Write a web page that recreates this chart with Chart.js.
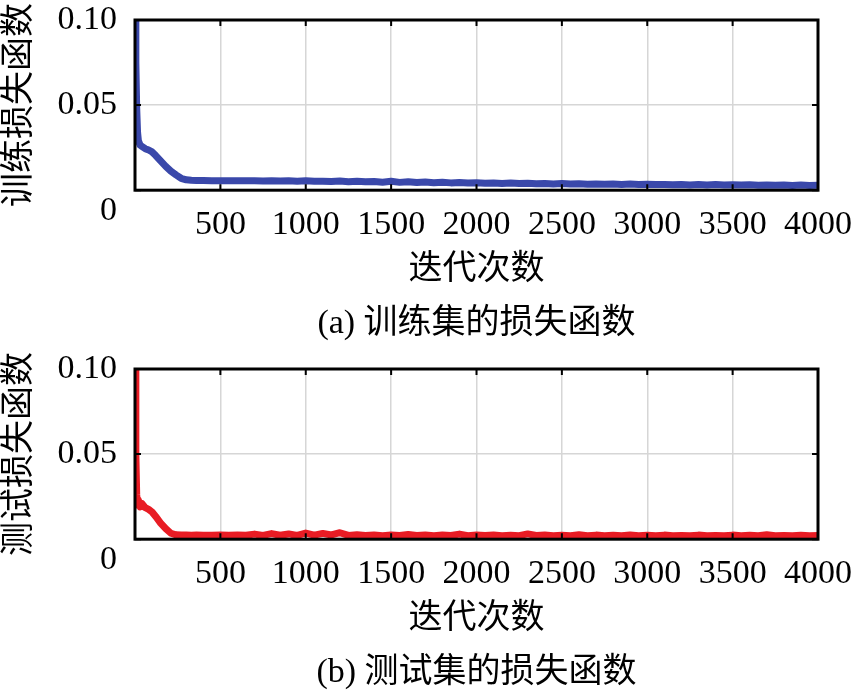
<!DOCTYPE html>
<html>
<head>
<meta charset="utf-8">
<title>损失函数</title>
<script src="https://cdn.jsdelivr.net/npm/chart.js@4.4.0/dist/chart.umd.min.js"></script>
<style>
    html, body { margin: 0; padding: 0; background: #fff; }
    #wrap { position: relative; width: 866px; height: 696px; overflow: hidden; }
    canvas { position: absolute; left: 0; }
    #trainChart { top: 0; }
    #testChart { top: 349px; }
</style>
</head>
<body>
<div id="wrap">
    <canvas id="trainChart" width="866" height="347"></canvas>
    <canvas id="testChart" width="866" height="347"></canvas>
</div>
<script>
// iteration numbers shared by both curves
const iterations = [
    0, 5, 10, 15, 20, 30, 40, 60, 80, 100, 120, 150, 180, 210, 240, 270, 300, 330, 360, 400,
    450, 500, 550, 600, 650, 700, 750, 800, 850, 900, 950, 1000,
    1050, 1100, 1150, 1200, 1250, 1300, 1350, 1400, 1450, 1500,
    1550, 1600, 1650, 1700, 1750, 1800, 1850, 1900, 1950, 2000,
    2050, 2100, 2150, 2200, 2250, 2300, 2350, 2400, 2450, 2500,
    2550, 2600, 2650, 2700, 2750, 2800, 2850, 2900, 2950, 3000,
    3050, 3100, 3150, 3200, 3250, 3300, 3350, 3400, 3450, 3500,
    3550, 3600, 3650, 3700, 3750, 3800, 3850, 3900, 3950, 4000
];

// (a) training loss
const trainLoss = [
    0.112, 0.075, 0.048, 0.034, 0.029, 0.0265, 0.0258, 0.0244, 0.0236, 0.0225,
    0.0205, 0.0172, 0.0140, 0.0112, 0.0090, 0.0070, 0.0061, 0.0058, 0.0057, 0.0057,
    0.0056, 0.0056, 0.0055, 0.0056, 0.0055, 0.0055, 0.0054, 0.0055, 0.0054, 0.0055, 0.0053, 0.0055,
    0.0052, 0.0053, 0.0051, 0.0054, 0.0050, 0.0052, 0.0049, 0.0051, 0.0047, 0.0052,
    0.0046, 0.0050, 0.0045, 0.0048, 0.0044, 0.0047, 0.0043, 0.0045, 0.0042, 0.0044,
    0.0041, 0.0043, 0.0040, 0.0042, 0.0039, 0.0041, 0.0038, 0.0040, 0.0037, 0.0039,
    0.0036, 0.0038, 0.0035, 0.0037, 0.0035, 0.0036, 0.0034, 0.0036, 0.0033, 0.0035,
    0.0033, 0.0034, 0.0032, 0.0034, 0.0031, 0.0033, 0.0031, 0.0033, 0.0030, 0.0032,
    0.0030, 0.0032, 0.0029, 0.0031, 0.0029, 0.0031, 0.0028, 0.0030, 0.0028, 0.0029
];

// (b) test loss
const testLoss = [
    0.105, 0.050, 0.026, 0.020, 0.023, 0.019, 0.021, 0.0185, 0.0175, 0.0160,
    0.0135, 0.0095, 0.0062, 0.0035, 0.0026, 0.0024, 0.0024, 0.0023, 0.0024, 0.0023,
    0.0023, 0.0024, 0.0023, 0.0024, 0.0023, 0.0030, 0.0022, 0.0033, 0.0023, 0.0031, 0.0022, 0.0036,
    0.0024, 0.0034, 0.0025, 0.0038, 0.0022, 0.0026, 0.0022, 0.0025, 0.0021, 0.0024,
    0.0022, 0.0028, 0.0022, 0.0025, 0.0021, 0.0024, 0.0022, 0.0030, 0.0021, 0.0025,
    0.0022, 0.0024, 0.0021, 0.0023, 0.0021, 0.0031, 0.0022, 0.0024, 0.0021, 0.0023,
    0.0021, 0.0026, 0.0020, 0.0024, 0.0021, 0.0023, 0.0020, 0.0025, 0.0021, 0.0023,
    0.0020, 0.0024, 0.0021, 0.0022, 0.0020, 0.0024, 0.0021, 0.0022, 0.0020, 0.0024,
    0.0021, 0.0023, 0.0020, 0.0026, 0.0021, 0.0022, 0.0020, 0.0023, 0.0021, 0.0022
];

const xTicks = [500, 1000, 1500, 2000, 2500, 3000, 3500, 4000];
const yTicks = [0, 0.05, 0.1];
const yTickLabels = [['', '0'], '0.05', '0.10'];

const FONT = "'Liberation Serif', 'Noto Sans CJK SC', serif";

// black box round the plot plus short inward ticks, like the original
const framePlugin = {
    id: 'frame',
    afterDatasetsDraw(chart) {
        const { ctx, chartArea: a, scales } = chart;
        ctx.save();
        ctx.strokeStyle = '#000';
        ctx.lineWidth = 2;
        ctx.beginPath();
        scales.x.ticks.forEach(t => {
            const px = scales.x.getPixelForValue(t.value);
            ctx.moveTo(px, a.top); ctx.lineTo(px, a.top + 6);
            ctx.moveTo(px, a.bottom); ctx.lineTo(px, a.bottom - 6);
        });
        scales.y.ticks.forEach(t => {
            const py = scales.y.getPixelForValue(t.value);
            ctx.moveTo(a.left, py); ctx.lineTo(a.left + 6, py);
            ctx.moveTo(a.right, py); ctx.lineTo(a.right - 6, py);
        });
        ctx.stroke();
        ctx.lineWidth = 3;
        ctx.strokeRect(a.left, a.top, a.right - a.left, a.bottom - a.top);
        ctx.restore();
    }
};

Chart.defaults.color = '#000';
Chart.defaults.font.family = FONT;

function makeLossChart(id, values, color, yTitle, caption) {
    const points = iterations.map((it, i) => ({ x: it, y: values[i] }));
    return new Chart(document.getElementById(id), {
        type: 'line',
        data: {
            datasets: [{
                data: points,
                borderColor: color,
                borderWidth: 7,
                pointRadius: 0,
                tension: 0,
                borderJoinStyle: 'round',
                borderCapStyle: 'round',
                clip: 0
            }]
        },
        options: {
            responsive: false,
            animation: false,
            layout: { padding: { top: 20, right: 35, left: 0, bottom: 0 } },
            plugins: {
                legend: { display: false },
                tooltip: { enabled: false },
                title: {
                    display: true,
                    text: caption,
                    position: 'bottom',
                    fullSize: false,
                    font: { size: 34, weight: 'normal' },
                    padding: { top: 13, bottom: 3 }
                }
            },
            scales: {
                x: {
                    type: 'linear',
                    min: 0,
                    max: 4000,
                    border: { display: false },
                    grid: { color: '#d6d6d6', lineWidth: 1.5, drawTicks: false },
                    afterBuildTicks: scale => {
                        scale.ticks = [0].concat(xTicks).map(v => ({ value: v }));
                    },
                    ticks: {
                        autoSkip: false,
                        maxRotation: 0,
                        padding: 14,
                        font: { size: 34 },
                        callback: v => (v === 0 ? '' : String(v))
                    },
                    title: {
                        display: true,
                        text: '迭代次数',
                        font: { size: 34 },
                        padding: { top: 0, bottom: 0 }
                    },
                    afterFit: scale => { scale.height = 100; }
                },
                y: {
                    min: 0,
                    max: 0.1,
                    border: { display: false },
                    grid: { color: '#d6d6d6', lineWidth: 1.5, drawTicks: false },
                    afterBuildTicks: scale => {
                        scale.ticks = yTicks.map(v => ({ value: v }));
                    },
                    ticks: {
                        autoSkip: false,
                        padding: 18,
                        font: { size: 34 },
                        callback: (v, i) => yTickLabels[i]
                    },
                    title: {
                        display: true,
                        text: yTitle,
                        font: { size: 34 },
                        padding: { top: 0, bottom: 0 }
                    },
                    afterFit: scale => {
                        scale.width = 135;
                        scale.paddingTop = 0;
                        scale.paddingBottom = 0;
                    }
                }
            }
        },
        plugins: [framePlugin]
    });
}

makeLossChart('trainChart', trainLoss, '#3a48aa', '训练损失函数', '(a) 训练集的损失函数');
makeLossChart('testChart', testLoss, '#e81c24', '测试损失函数', '(b) 测试集的损失函数');
</script>
</body>
</html>
